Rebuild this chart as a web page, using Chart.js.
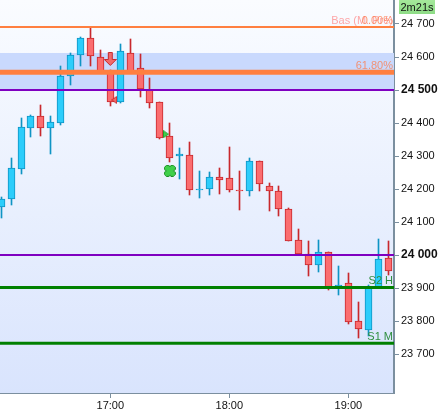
<!DOCTYPE html>
<html>
<head>
<meta charset="utf-8">
<style>
  html, body { margin: 0; padding: 0; background: #fff; }
  canvas { display: block; }
</style>
<script src="https://cdn.jsdelivr.net/npm/chart.js@4"></script>
</head>
<body>
<canvas id="myChart" width="441" height="413"></canvas>
<script>
// minutes since midnight, one bar every 5 min from 16:05 to 19:20
var times = [965, 970, 975, 980, 985, 990, 995, 1000, 1005, 1010, 1015, 1020, 1025, 1030, 1035, 1040, 1045, 1050, 1055, 1060,
  1065, 1070, 1075, 1080, 1085, 1090, 1095, 1100, 1105, 1110, 1115, 1120, 1125, 1130, 1135, 1140, 1145, 1150, 1155, 1160];
var opens = [24146, 24169, 24262, 24386, 24420, 24384, 24401, 24543, 24607, 24657, 24599, 24558, 24465, 24611, 24566, 24500, 24463, 24360, 24301, 24302,
  24198, 24201, 24235, 24232, 24196, 24193, 24286, 24208, 24193, 24138, 24047, 24004, 23969, 24010, 23902, 23916, 23799, 23774, 23902, 23990];
var highs = [24177, 24293, 24415, 24424, 24454, 24420, 24573, 24611, 24661, 24688, 24620, 24560, 24639, 24655, 24609, 24536, 24463, 24400, 24324, 24342,
  24255, 24252, 24264, 24327, 24255, 24293, 24286, 24218, 24208, 24141, 24079, 24042, 24045, 24010, 23966, 23945, 23858, 23908, 24048, 24042];
var lows = [24113, 24153, 24246, 24359, 24362, 24307, 24395, 24516, 24574, 24574, 24555, 24452, 24461, 24555, 24479, 24445, 24353, 24282, 24230, 24182,
  24173, 24183, 24185, 24190, 24137, 24180, 24195, 24134, 24119, 24044, 24004, 23937, 23950, 23894, 23879, 23792, 23748, 23756, 23900, 23940];
var closes = [24169, 24263, 24387, 24420, 24384, 24402, 24541, 24605, 24657, 24604, 24558, 24465, 24617, 24555, 24502, 24462, 24356, 24295, 24305, 24198,
  24200, 24235, 24228, 24196, 24193, 24286, 24214, 24193, 24138, 24044, 24004, 23969, 24010, 23902, 23910, 23798, 23777, 23902, 23987, 23953];

var yTicks = [24700, 24600, 24500, 24400, 24300, 24200, 24100, 24000, 23900, 23800, 23700];
var boldTicks = [24500, 24000];
var xTicks = [1020, 1080, 1140];

var fibLevels = [24691, 24553.5];
var pivotLevels = [24500, 24000];
var supportLevels = [23902, 23733];
var bandTop = 24612;
var bandBottom = 24500;

var xMin = 964.4, xMax = 1163;
var yMin = 23582, yMax = 24772.7;

var labels = [
  { text: "Bas (M. Pré)", level: 24691, color: "rgba(255,130,130,0.7)" },
  { text: "0.00%", level: 24691, color: "rgba(255,120,70,0.75)" },
  { text: "61.80%", level: 24553.5, color: "rgba(255,120,70,0.75)" },
  { text: "S2 H", level: 23902, color: "#2f8f3f" },
  { text: "S1 M", level: 23733, color: "#2f8f3f" }
];

var bodies = times.map(function (t, i) { return { x: t, y: [opens[i], closes[i]] }; });
var wicks = times.map(function (t, i) { return { x: t, y: [lows[i], highs[i]] }; });
var isUp = function (i) { return closes[i] >= opens[i]; };

function hLine(level, color, width) {
  return {
    type: "line", order: 1, borderColor: color, borderWidth: width, pointRadius: 0,
    data: [{ x: xMin, y: level }, { x: xMax, y: level }]
  };
}

function marker(w, h, paint) {
  var c = document.createElement("canvas");
  c.width = w; c.height = h;
  paint(c.getContext("2d"));
  return c;
}

function poly(g, pts, fill, stroke) {
  g.beginPath();
  pts.forEach(function (p, i) { if (i) g.lineTo(p[0], p[1]); else g.moveTo(p[0], p[1]); });
  g.closePath();
  g.fillStyle = fill; g.fill();
  g.lineWidth = 1; g.strokeStyle = stroke; g.stroke();
}

var arrowDown = marker(13, 14, function (g) {
  poly(g, [[4.5, 0.5], [8.5, 0.5], [8.5, 7.5], [12.5, 7.5], [6.5, 13.5], [0.5, 7.5], [4.5, 7.5]], "#f26a6a", "#c8282d");
});
var triLeft = marker(6, 8, function (g) {
  poly(g, [[5.5, 0.5], [5.5, 7.5], [0.5, 4]], "#f26a6a", "#c8282d");
});
var triRight = marker(6, 8, function (g) {
  poly(g, [[0.5, 0.5], [0.5, 7.5], [5.5, 4]], "#3fd04a", "#1f9a2a");
});
var cross = marker(12, 12, function (g) {
  poly(g, [[2.5, 0.5], [5, 0.5], [6, 2], [7, 0.5], [9.5, 0.5], [11.5, 2.5], [11.5, 4.5], [9.5, 6], [11.5, 7.5], [11.5, 9.5], [9.5, 11.5],
    [7, 11.5], [6, 10], [5, 11.5], [2.5, 11.5], [0.5, 9.5], [0.5, 7.5], [2.5, 6], [0.5, 4.5], [0.5, 2.5]], "#3fd04a", "#1a8f24");
});

var markerDs = function (x, y, style) {
  return { type: "scatter", order: 0, pointStyle: style, pointRadius: 6, data: [{ x: x, y: y }] };
};

var paintPlugin = {
  id: "paint",
  beforeDraw: function (chart) {
    var a = chart.chartArea, g = chart.ctx;
    var grad = g.createLinearGradient(0, a.top, 0, a.bottom);
    grad.addColorStop(0, "#fafcff");
    grad.addColorStop(1, "#d9e4fd");
    g.fillStyle = grad;
    g.fillRect(a.left, a.top, a.right - a.left, a.bottom - a.top);
  },
  // keep candles on whole pixels so the wicks stay sharp
  beforeDatasetsDraw: function (chart) {
    chart.getSortedVisibleDatasetMetas().forEach(function (meta) {
      if (meta.type !== "bar") return;
      meta.data.forEach(function (el) {
        el.x = Math.floor(el.x) + 0.5;
        el.y = Math.round(el.y);
        el.base = Math.round(el.base);
      });
    });
  },
  afterDraw: function (chart) {
    var g = chart.ctx, y = chart.scales.y, a = chart.chartArea;
    g.save();
    g.font = "11px 'Liberation Sans'";
    g.textAlign = "right";
    g.textBaseline = "alphabetic";
    labels.forEach(function (l) {
      g.fillStyle = l.color;
      g.fillText(l.text, a.right - 1, y.getPixelForValue(l.level) - 3);
    });
    // countdown box
    var grad = g.createLinearGradient(0, 0, 0, 14);
    grad.addColorStop(0, "#a4e89a");
    grad.addColorStop(1, "#8edc86");
    g.fillStyle = grad;
    g.fillRect(399, 0, 36, 14);
    g.fillStyle = "#111";
    g.textAlign = "center";
    g.fillText("2m21s", 417, 11);
    g.restore();
  }
};

new Chart("myChart", {
  type: "bar",
  plugins: [paintPlugin],
  data: {
    datasets: [
      {
        type: "line", order: 10, borderWidth: 0, pointRadius: 0, backgroundColor: "#c9d9fd",
        fill: { target: { value: bandBottom } },
        data: [{ x: xMin, y: bandTop }, { x: xMax, y: bandTop }]
      },
      {
        order: 6, grouped: false, barThickness: 1, borderWidth: 0, borderSkipped: false, data: wicks,
        backgroundColor: function (c) { return isUp(c.dataIndex) ? "#0f94c4" : "#c8282d"; }
      },
      {
        order: 5, grouped: false, barThickness: 7, borderWidth: 1, borderSkipped: false, data: bodies,
        backgroundColor: function (c) { return isUp(c.dataIndex) ? "#2ccdfb" : "#fb6d6f"; },
        borderColor: function (c) { return isUp(c.dataIndex) ? "#0f94c4" : "#c8282d"; }
      },
      hLine(fibLevels[0], "#ff7f40", 2),
      hLine(fibLevels[1], "#ff7f40", 5),
      hLine(pivotLevels[0], "#7f00c0", 2),
      hLine(pivotLevels[1], "#7f00c0", 2),
      hLine(supportLevels[0], "#008000", 3),
      hLine(supportLevels[1], "#008000", 3),
      markerDs(1020, 24594, arrowDown),
      markerDs(1022, 24470, triLeft),
      markerDs(1048, 24366, triRight),
      markerDs(1050, 24255, cross)
    ]
  },
  options: {
    responsive: false,
    devicePixelRatio: 1,
    animation: false,
    layout: { padding: 0, autoPadding: false },
    plugins: { legend: { display: false }, tooltip: { enabled: false }, title: { display: false } },
    scales: {
      x: {
        type: "linear", min: xMin, max: xMax, offset: false,
        afterBuildTicks: function (s) { s.ticks = xTicks.map(function (v) { return { value: v }; }); },
        afterFit: function (s) { s.height = 20; s.paddingLeft = 0; s.paddingRight = 0; },
        grid: { offset: false, drawOnChartArea: false, tickLength: 5, tickColor: "#7b8f9f" },
        border: { color: "#7b8f9f", width: 1 },
        ticks: {
          padding: 1, maxRotation: 0, autoSkip: false, color: "#111", font: { family: "'Liberation Sans'", size: 11 },
          callback: function (v) { return Math.floor(v / 60) + ":" + ("0" + (v % 60)).slice(-2); }
        }
      },
      y: {
        position: "right", min: yMin, max: yMax,
        afterBuildTicks: function (s) { s.ticks = yTicks.map(function (v) { return { value: v }; }); },
        afterFit: function (s) { s.width = 47; s.paddingTop = 0; s.paddingBottom = 0; },
        grid: { drawOnChartArea: false, tickLength: 5, tickColor: "#7b8f9f" },
        border: { color: "#7b8f9f", width: 2 },
        ticks: {
          padding: 2, autoSkip: false, color: "#111",
          font: function (c) {
            var bold = c.tick && boldTicks.indexOf(c.tick.value) >= 0;
            return { family: "'Liberation Sans'", size: bold ? 12 : 11, weight: bold ? "bold" : "normal" };
          },
          callback: function (v) { return String(v).slice(0, 2) + " " + String(v).slice(2); }
        }
      }
    }
  }
});
</script>
</body>
</html>
